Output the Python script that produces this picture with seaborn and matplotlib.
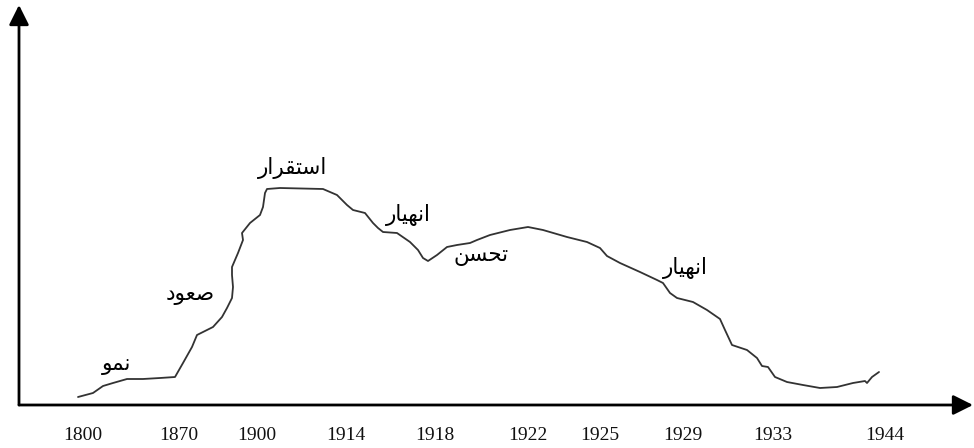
import numpy as np
import pandas as pd
import matplotlib
matplotlib.use("Agg")
import matplotlib.pyplot as plt
import seaborn as sns

# ---- data -------------------------------------------------------------
# horizontal position along the (non-uniform) time axis and level of the curve
curve_x = [78, 93, 103, 113, 127, 143, 160, 175, 183, 192, 197, 203, 213, 222, 227,
           232, 233, 232, 232, 238, 243, 242, 250, 260, 263, 265, 267, 280, 323, 337,
           347, 353, 365, 373, 378, 383, 397, 410, 418, 423, 428, 437, 447, 457, 470,
           477, 490, 510, 528, 543, 567, 587, 600, 607, 620, 640, 657, 663, 670, 677,
           693, 707, 720, 725, 732, 747, 757, 762, 768, 775, 787, 803, 820, 837, 853,
           865, 867, 872, 879]
curve_y = [8, 12, 19, 22, 26, 26, 27, 28, 42, 58, 70, 73, 78, 88, 97,
           107, 118, 130, 138, 152, 165, 172, 182, 190, 198, 212, 216, 217, 216, 210,
           200, 195, 192, 182, 177, 173, 172, 163, 155, 147, 144, 150, 158, 160, 162,
           165, 170, 175, 178, 175, 168, 163, 157, 149, 142, 133, 125, 122, 112, 107,
           103, 95, 86, 75, 60, 55, 47, 39, 38, 28, 23, 20, 17, 18, 22,
           24, 22, 28, 33]

tick_pos = [83, 179, 257, 346, 435, 528, 600, 683, 773, 885]
tick_labels = ["1800", "1870", "1900", "1914", "1918", "1922", "1925", "1929", "1933", "1944"]

phase_labels = ["نمو", "صعود", "استقرار", "انهيار", "تحسن", "انهيار"]
phase_x = [117, 190, 293, 408, 481, 685]
phase_y = [40, 110, 237, 190, 149, 137]

# ---- simple Arabic shaping (presentation forms) ------------------------
FORMS = {  # iso, fin, ini, med
    "ا": ("\uFE8D", "\uFE8E", None, None),
    "ت": ("\uFE95", "\uFE96", "\uFE97", "\uFE98"),
    "ح": ("\uFEA1", "\uFEA2", "\uFEA3", "\uFEA4"),
    "د": ("\uFEA9", "\uFEAA", None, None),
    "ر": ("\uFEAD", "\uFEAE", None, None),
    "س": ("\uFEB1", "\uFEB2", "\uFEB3", "\uFEB4"),
    "ص": ("\uFEB9", "\uFEBA", "\uFEBB", "\uFEBC"),
    "ع": ("\uFEC9", "\uFECA", "\uFECB", "\uFECC"),
    "ق": ("\uFED5", "\uFED6", "\uFED7", "\uFED8"),
    "م": ("\uFEE1", "\uFEE2", "\uFEE3", "\uFEE4"),
    "ن": ("\uFEE5", "\uFEE6", "\uFEE7", "\uFEE8"),
    "ه": ("\uFEE9", "\uFEEA", "\uFEEB", "\uFEEC"),
    "و": ("\uFEED", "\uFEEE", None, None),
    "ي": ("\uFEF1", "\uFEF2", "\uFEF3", "\uFEF4"),
}


def dual(ch):
    return ch in FORMS and FORMS[ch][2] is not None


def shape(word):
    out = []
    for i, ch in enumerate(word):
        if ch not in FORMS:
            out.append(ch)
            continue
        prev_j = i > 0 and dual(word[i - 1])
        next_j = i < len(word) - 1 and dual(ch) and word[i + 1] in FORMS
        iso, fin, ini, med = FORMS[ch]
        if prev_j and next_j:
            out.append(med)
        elif prev_j:
            out.append(fin)
        elif next_j:
            out.append(ini)
        else:
            out.append(iso)
    return "".join(reversed(out))


# ---- figure ----------------------------------------------------------------
sns.set_theme(style="white")
plt.rcParams["font.family"] = ["DejaVu Sans"]

W, H = 974, 448
fig = plt.figure(figsize=(W / 100, H / 100), dpi=100)
ax = fig.add_axes([19 / W, 43 / H, (W - 19) / W, 400 / H])
ax.set_xlim(19, 974)
ax.set_ylim(0, 400)
for s in ax.spines.values():
    s.set_visible(False)
ax.set_yticks([])

df = pd.DataFrame({"x": curve_x, "y": curve_y})
sns.lineplot(data=df, x="x", y="y", sort=False, estimator=None,
             color="#333333", linewidth=1.3, ax=ax)
ax.set_xlabel("")
ax.set_ylabel("")

# axes with arrows
arrow = dict(arrowstyle="-|>,head_length=0.6,head_width=0.3", color="black",
             lw=2.0, shrinkA=0, shrinkB=0, mutation_scale=20)
ax.annotate("", xy=(973, 0), xytext=(19, 0), arrowprops=arrow, annotation_clip=False)
ax.annotate("", xy=(19, 400), xytext=(19, 0), arrowprops=arrow, annotation_clip=False)

ax.set_xticks(tick_pos)
ax.set_xticklabels(tick_labels, fontfamily="Liberation Serif", fontsize=14, color="#111111")
ax.tick_params(axis="x", length=0, pad=16)

for lab, x, y in zip(phase_labels, phase_x, phase_y):
    ax.text(x, y, shape(lab), ha="center", va="center", fontsize=15.5,
            fontfamily="DejaVu Sans", color="black")

fig.savefig("out.png", dpi=100)
